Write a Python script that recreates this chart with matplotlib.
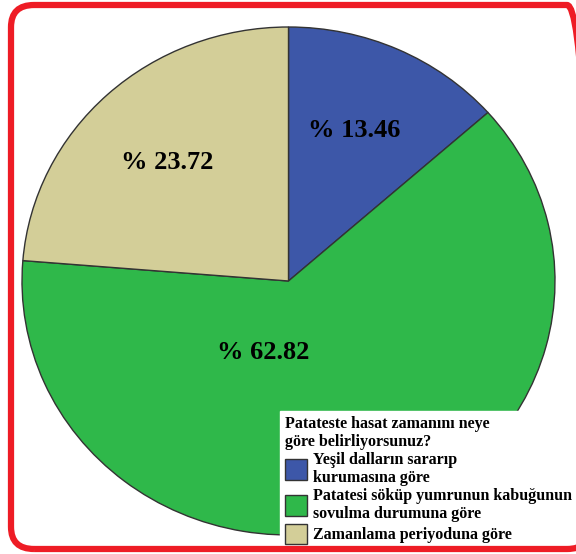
import matplotlib
matplotlib.use("Agg")
import matplotlib.pyplot as plt
from matplotlib.patches import FancyBboxPatch

values = [13.46, 62.82, 23.72]
labels = ["Yeşil dalların sararıp\nkurumasına göre",
          "Patatesi söküp yumrunun kabuğunun\nsovulma durumuna göre",
          "Zamanlama periyoduna göre"]
colors = ["#3d57a8", "#2fb84a", "#d3ce98"]
legend_title = "Patateste hasat zamanını neye\ngöre belirliyorsunuz?"
label_pos = [(0.246, 0.594), (-0.096, -0.283), (-0.456, 0.465)]

plt.rcParams['font.family'] = ['Liberation Serif', 'DejaVu Serif']

fig = plt.figure(figsize=(5.76, 5.54), dpi=100)
ax = fig.add_axes([22/576, 1-535/554, 533/576, 508/554])
wedges, texts, autotexts = ax.pie(
    values, colors=colors, startangle=90, counterclock=False,
    autopct=lambda p: f"% {p:.2f}", pctdistance=0.65,
    wedgeprops=dict(edgecolor="#333333", linewidth=1.0),
    textprops=dict(fontsize=19, fontweight="bold", color="black"))
ax.set_xlim(-1, 1)
ax.set_ylim(-1, 1)
ax.set_aspect("auto")
ax.axis("off")
for t, p in zip(autotexts, label_pos):
    t.set_position(p)

leg = fig.legend(wedges, labels, title=legend_title,
                 loc="upper left", bbox_to_anchor=(280/576, 1-411/554),
                 prop=dict(size=11.5, weight="bold"),
                 title_fontproperties=dict(size=11.5, weight="bold"),
                 frameon=True, fancybox=False, framealpha=1,
                 edgecolor="white", facecolor="white",
                 handlelength=1.4, handleheight=1.6, handletextpad=0.35,
                 labelspacing=0.1, borderpad=0.3, borderaxespad=0)
leg._legend_box.align = "left"
leg.set_zorder(5)

border = FancyBboxPatch((11/576, 5/554), 579/576, 544/554,
                        boxstyle="round,pad=0,rounding_size=0.04",
                        transform=fig.transFigure, fill=False,
                        edgecolor="#ee1c25", linewidth=4.5, zorder=10)
fig.add_artist(border)

fig.savefig("out.png", dpi=100)
